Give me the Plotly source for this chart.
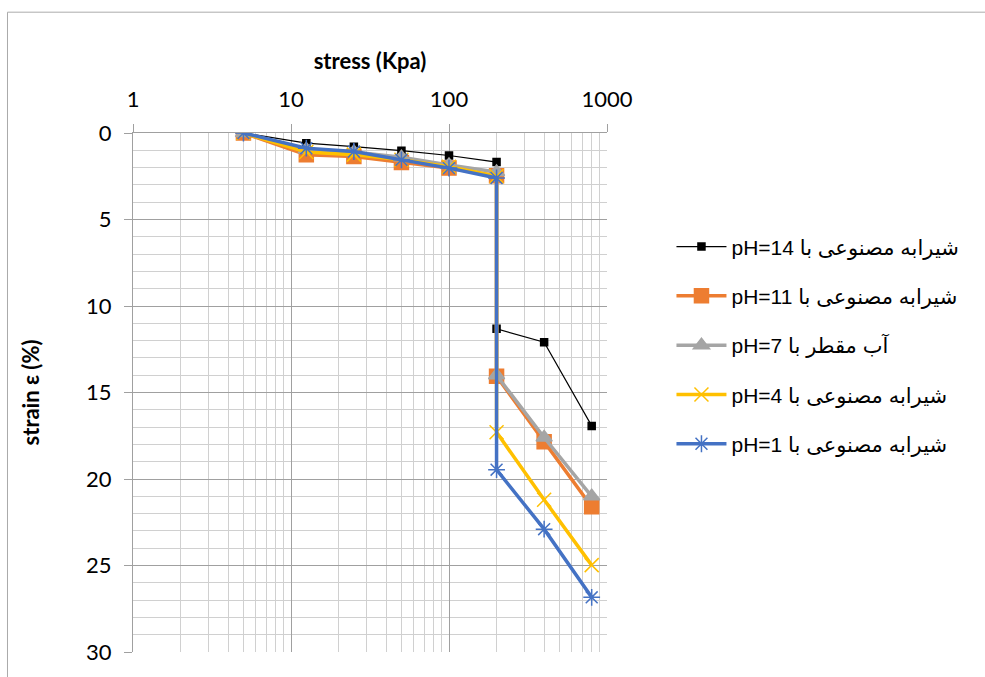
import plotly.graph_objects as go

# Applied stress steps (kPa); the repeated 200 is the inundation step
stress = [5, 12.5, 25, 50, 100, 200, 200, 400, 800]

# Vertical strain (%) for each pore fluid
strain_ph14 = [0, 0.59, 0.79, 1.02, 1.30, 1.68, 11.32, 12.09, 16.93]
strain_ph11 = [0, 1.26, 1.36, 1.70, 2.03, 2.47, 14.06, 17.84, 21.60]
strain_ph7 = [0, 0.95, 1.10, 1.40, 1.85, 2.25, 14.00, 17.60, 21.00]
strain_ph4 = [0, 1.10, 1.25, 1.55, 1.95, 2.50, 17.30, 21.20, 24.98]
strain_ph1 = [0, 0.88, 1.07, 1.55, 2.03, 2.60, 19.46, 22.90, 26.84]

series_names = [
    "شیرابه مصنوعی با pH=14",
    "شیرابه مصنوعی با pH=11",
    "آب مقطر با pH=7",
    "شیرابه مصنوعی با pH=4",
    "شیرابه مصنوعی با pH=1",
]

x_tick_vals = [1, 10, 100, 1000]
x_tick_text = ["1", "10", "100", "1000"]
y_tick_vals = [0, 5, 10, 15, 20, 25, 30]

styles = [
    dict(color="#000000", width=1.2, symbol="square", size=7),
    dict(color="#ED7D31", width=3.5, symbol="square", size=14),
    dict(color="#A5A5A5", width=3.5, symbol="triangle-up", size=14),
    dict(color="#FFC000", width=3.5, symbol="x-thin-open", size=14),
    dict(color="#4472C4", width=3.5, symbol="asterisk-open", size=14),
]

fig = go.Figure()
for i, (name, ys, st) in enumerate(zip(
        series_names,
        [strain_ph14, strain_ph11, strain_ph7, strain_ph4, strain_ph1],
        styles)):
    fig.add_trace(go.Scatter(
        x=stress, y=ys, mode="lines+markers",
        name="\u202b" + name + "\u202c",
        legendgroup=f"g{i}",
        line=dict(color=st["color"], width=st["width"]),
        marker=dict(symbol=st["symbol"], size=st["size"], color=st["color"],
                    line=dict(color=st["color"], width=1.5)),
    ))

axis_font = dict(family="Lato, Carlito, sans-serif", size=22, color="#000000")
title_font = dict(family="Lato, Carlito, sans-serif", size=22, color="#000000",
                  weight="bold")

fig.update_layout(
    width=985, height=677,
    margin=dict(l=133, r=378, t=133, b=22),
    paper_bgcolor="white", plot_bgcolor="white",
    showlegend=True,
    legend=dict(
        x=1.136, y=0.82, xanchor="left", yanchor="top",
        font=dict(family="Liberation Sans, Arial, DejaVu Sans", size=21,
                  color="#000000"),
        tracegroupgap=19, itemwidth=50,
        bgcolor="rgba(0,0,0,0)",
    ),
    xaxis=dict(
        type="log", range=[0, 3], side="top",
        tickmode="array", tickvals=x_tick_vals, ticktext=x_tick_text,
        tickfont=axis_font,
        ticks="outside", ticklen=8, tickcolor="#A0A0A0",
        ticklabelstandoff=8,
        showline=True, linecolor="#A0A0A0", linewidth=1,
        showgrid=True, gridcolor="#A0A0A0", gridwidth=1,
        minor=dict(dtick="D1", showgrid=True, gridcolor="#D0D0D0",
                   gridwidth=1, ticks=""),
        zeroline=False,
        title=dict(text="stress (Kpa)", font=title_font, standoff=9),
    ),
    yaxis=dict(
        range=[30, 0],
        tickmode="array", tickvals=y_tick_vals,
        tickfont=axis_font,
        ticks="outside", ticklen=8, tickcolor="#A0A0A0",
        ticklabelstandoff=8,
        showline=True, linecolor="#A0A0A0", linewidth=1,
        showgrid=True, gridcolor="#A0A0A0", gridwidth=1,
        minor=dict(dtick=1, showgrid=True, gridcolor="#D0D0D0",
                   gridwidth=1, ticks=""),
        zeroline=False,
        title=dict(text="strain ε (%)", font=title_font, standoff=40),
    ),
    shapes=[dict(
        type="rect", xref="paper", yref="paper",
        x0=-0.2648, x1=2.0, y0=-0.5, y1=1.2328,
        line=dict(color="#ABABAB", width=1), fillcolor="rgba(0,0,0,0)",
        layer="below",
    )],
)

fig.write_html("out.html")
